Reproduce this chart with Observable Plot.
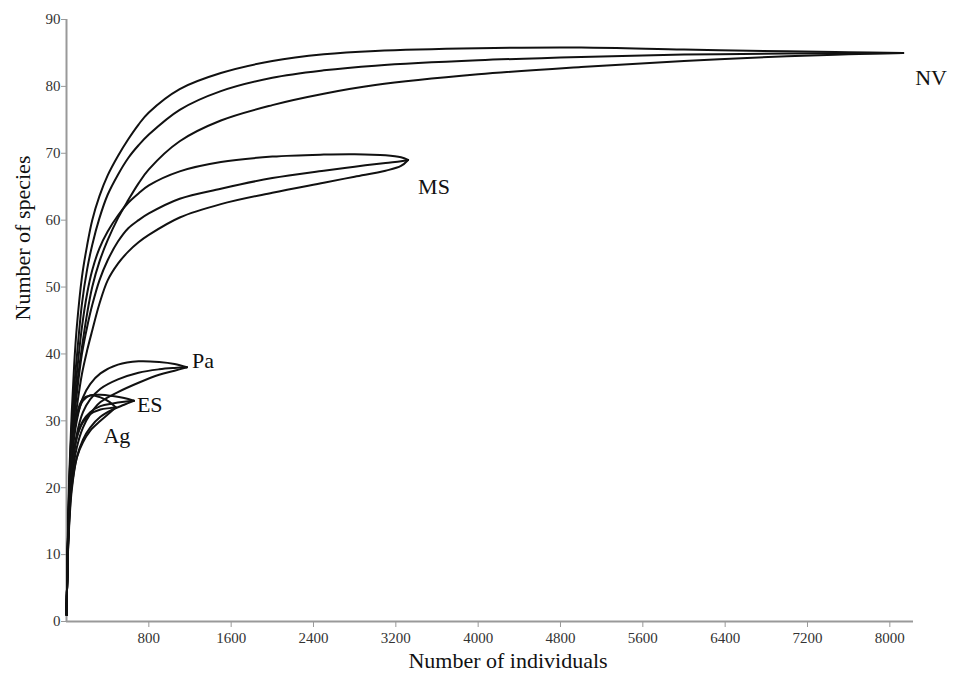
<!DOCTYPE html>
<html>
<head>
<meta charset="utf-8">
<script src="https://cdn.jsdelivr.net/npm/d3@7"></script>
<script src="https://cdn.jsdelivr.net/npm/@observablehq/plot@0.6"></script>
<style>
  html, body { margin: 0; padding: 0; background: #fff; }
  #chart svg { display: block; }
</style>
</head>
<body>
<div id="chart"></div>
<script>
// Rarefaction curves (upper bound, expected value, lower bound) per site
const sites = ["NV", "MS", "Pa", "ES", "Ag"];

const nvIndividuals = [1, 10, 25, 50, 75, 100, 150, 200, 250, 320, 400, 500, 600, 700, 800, 1100, 1500, 2000, 2500, 3000, 4000, 5000, 6000, 7000, 7600, 8130];
const nvUpper = [1, 9.6, 21, 31, 38.5, 44, 51.5, 56.2, 60, 63.6, 66.7, 69.6, 72.1, 74.3, 76.1, 79.6, 82.0, 83.8, 84.8, 85.3, 85.7, 85.8, 85.5, 85.25, 85.1, 85];
const nvMean  = [1, 9.4, 19.5, 29, 35, 39.5, 47.5, 52.6, 56.3, 60.3, 63.8, 66.8, 69.3, 71.2, 72.8, 76.5, 79.3, 81.3, 82.4, 83.1, 83.9, 84.4, 84.75, 84.9, 84.95, 85];
const nvLower = [1, 9.2, 18.5, 27, 31.5, 35, 41, 46, 50, 53.8, 57, 60.3, 63, 65.5, 67.6, 71.8, 74.9, 77.2, 78.9, 80.2, 81.8, 82.9, 83.8, 84.5, 84.8, 85];

const msIndividuals = [1, 10, 25, 50, 75, 100, 150, 200, 250, 320, 400, 500, 600, 700, 800, 1100, 1500, 2000, 2500, 2800, 3100, 3250, 3319];
const msUpper = [1, 9.3, 19, 28.5, 33, 37, 44, 49, 52.5, 55.8, 58.3, 60.7, 62.6, 64, 65.2, 67.3, 68.7, 69.5, 69.8, 69.85, 69.7, 69.4, 69];
const msMean  = [1, 9.2, 18, 26.5, 30.5, 34, 40, 44, 47.3, 51, 54, 56.8, 58.8, 60, 61, 63.2, 64.7, 66.3, 67.4, 68, 68.55, 68.8, 69];
const msLower = [1, 9, 17.5, 25.5, 29, 32, 37, 40.5, 43.5, 47.5, 51, 53.5, 55.3, 56.7, 57.8, 60.4, 62.4, 64.1, 65.6, 66.5, 67.4, 68.1, 69];

const paIndividuals = [1, 10, 25, 50, 100, 160, 230, 330, 500, 700, 900, 1050, 1170];
const paUpper = [1, 9, 17, 24, 30, 33.5, 35.5, 37.1, 38.4, 38.9, 38.8, 38.5, 38];
const paMean  = [1, 8.8, 16, 22.5, 28, 31.3, 33.2, 34.8, 36.2, 37.2, 37.7, 37.9, 38];
const paLower = [1, 8.5, 15, 21, 26, 29, 31, 32.8, 34.3, 35.7, 36.9, 37.5, 38];

const esIndividuals = [1, 10, 25, 50, 100, 160, 230, 330, 450, 560, 655];
const esUpper = [1, 9, 17, 24.5, 30.5, 33, 33.8, 33.9, 33.7, 33.4, 33];
const esMean  = [1, 8.7, 15.5, 22, 27.5, 30, 31.3, 32.2, 32.6, 32.85, 33];
const esLower = [1, 8.3, 14, 19.5, 24.5, 27.2, 29, 30.6, 31.7, 32.4, 33];

const agIndividuals = [1, 10, 25, 50, 100, 160, 230, 330, 420, 480];
const agUpper = [1, 9.2, 17.5, 25, 31, 33.3, 33.8, 33.5, 32.8, 32];
const agMean  = [1, 8.8, 16, 22.5, 27.5, 29.8, 31, 31.7, 31.9, 32];
const agLower = [1, 8.4, 14.5, 20, 24.5, 26.8, 28.5, 30, 31.2, 32];

const xTicks = [800, 1600, 2400, 3200, 4000, 4800, 5600, 6400, 7200, 8000];
const yTicks = [0, 10, 20, 30, 40, 50, 60, 70, 80, 90];
const xTitle = "Number of individuals";
const yTitle = "Number of species";

// Assemble long-format rows for the line mark
const siteSeries = {
  NV: [nvIndividuals, nvUpper, nvMean, nvLower],
  MS: [msIndividuals, msUpper, msMean, msLower],
  Pa: [paIndividuals, paUpper, paMean, paLower],
  ES: [esIndividuals, esUpper, esMean, esLower],
  Ag: [agIndividuals, agUpper, agMean, agLower]
};
const rows = [];
const ends = [];
for (const site of sites) {
  const [n, ...bands] = siteSeries[site];
  ["upper", "mean", "lower"].forEach((band, b) => {
    n.forEach((v, i) => rows.push({site, band, n: v, s: bands[b][i]}));
  });
  ends.push({site, n: n[n.length - 1], s: bands[1][bands[1].length - 1]});
}

// Where each site name sits relative to its curve end
const labelPlacement = {
  NV: {dx: 12, dy: 25, textAnchor: "start"},
  MS: {dx: 10, dy: 27, textAnchor: "start"},
  Pa: {dx: 5, dy: -6, textAnchor: "start"},
  ES: {dx: 3, dy: 4, textAnchor: "start"},
  Ag: {dx: 1, dy: 28, textAnchor: "middle"}
};

const serif = "'Liberation Serif', 'Times New Roman', serif";

const chart = Plot.plot({
  width: 957,
  height: 682,
  marginLeft: 66,
  marginRight: 44,
  marginTop: 19,
  marginBottom: 61,
  style: {fontFamily: serif, fontSize: "15px", color: "#222", background: "#fff"},
  x: {domain: [0, 8230]},
  y: {domain: [0, 90]},
  marks: [
    Plot.ruleY([0], {stroke: "#999", strokeWidth: 2}),
    Plot.ruleX([0], {y1: 0, y2: 90, stroke: "#999", strokeWidth: 2}),
    Plot.axisX({ticks: xTicks, tickFormat: d => String(d), tickSize: 6, tickPadding: 5, stroke: "#999", fill: "#333", label: null}),
    Plot.axisY({ticks: yTicks, tickFormat: d => String(d), tickSize: 5, tickPadding: 1, stroke: "#999", fill: "#333", label: null}),
    Plot.line(rows, {
      x: "n", y: "s", z: d => d.site + d.band,
      stroke: "#111", strokeWidth: 2, curve: "catmull-rom"
    }),
    ...sites.map(site => Plot.text(ends.filter(d => d.site === site), {
      x: "n", y: "s", text: "site",
      ...labelPlacement[site],
      fontSize: 22, fill: "#111"
    })),
    Plot.text([xTitle], {text: d => d, frameAnchor: "bottom", dx: 18, dy: 46, fontSize: 22, fill: "#111"}),
    Plot.text([yTitle], {text: d => d, frameAnchor: "left", dx: -44, rotate: -90, fontSize: 22, fill: "#111"})
  ]
});
document.getElementById("chart").appendChild(chart);
</script>
</body>
</html>
